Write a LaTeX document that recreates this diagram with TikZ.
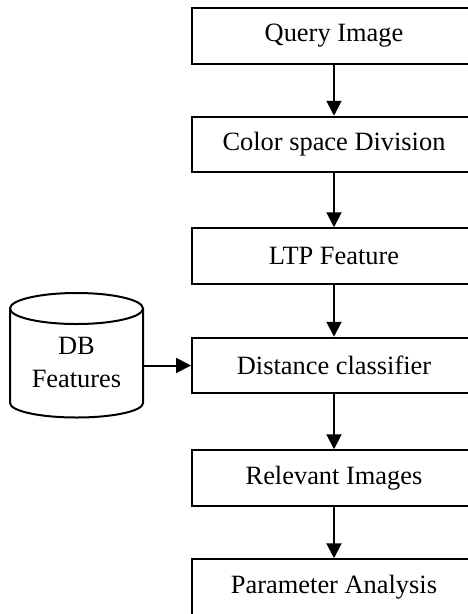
\documentclass[tikz,border=0pt]{standalone}
\usepackage{fontspec}
\setmainfont{Liberation Serif}
\usetikzlibrary{arrows.meta}
\begin{document}
\begin{tikzpicture}[x=1pt,y=-1pt,
  box/.style={draw,line width=2pt,minimum width=284pt,minimum height=55.5pt,inner sep=0pt,
    font=\fontsize{26.4}{33}\selectfont},
  arr/.style={line width=2pt,-{Triangle[length=15pt,width=15pt]}},
  lbl/.style={align=center,inner sep=0pt,font=\fontsize{26.4}{33}\selectfont}]
\useasboundingbox (0,0) rectangle (468,614);
\clip (0,0) rectangle (468,614);
\node[box] (b1) at (334,36) {Query Image};
\node[box] (b2) at (334,144.5) {Color space Division};
\node[box] (b3) at (334,256) {LTP Feature};
\node[box] (b4) at (334,365.5) {Distance classifier};
\node[box] (b5) at (334,478) {Relevant Images};
\node[box] (b6) at (334,587) {Parameter Analysis};
\draw[arr] (b1) -- (b2);
\draw[arr] (b2) -- (b3);
\draw[arr] (b3) -- (b4);
\draw[arr] (b4) -- (b5);
\draw[arr] (b5) -- (b6);
% cylinder
\draw[line width=2pt] (10,308.5) -- (10,403) arc[start angle=180,end angle=0,x radius=66.5,y radius=14.5] -- (143,308.5);
\draw[line width=2pt] (76.5,308.5) ellipse[x radius=66.5,y radius=15.5];
\node[lbl] (db) at (76.5,362) {DB\\Features};
\coordinate (dbr) at (143,365.5);
\draw[arr] (dbr) -- (b4.west);
\end{tikzpicture}
\end{document}
